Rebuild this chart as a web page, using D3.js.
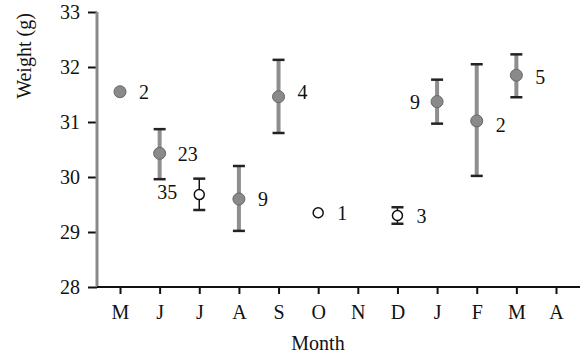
<!DOCTYPE html>
<html><head><meta charset="utf-8">
<script src="https://cdn.jsdelivr.net/npm/d3@7"></script>
<style>body{margin:0;background:#fff}svg{display:block}text{font-family:"Liberation Serif","Times New Roman",serif;fill:#111}</style>
</head><body><svg id="c" width="586" height="357"></svg>
<script>
const months = ["M","J","J","A","S","O","N","D","J","F","M","A"];
const means  = [31.55,30.43,29.68,29.6,31.46,29.35,null,29.3,31.37,31.02,31.85,null];
const lows   = [null,29.96,29.4,29.02,30.8,null,null,29.15,30.97,30.02,31.45,null];
const highs  = [null,30.87,29.97,30.2,32.13,null,null,29.45,31.77,32.05,32.23,null];
const filled = [true,true,false,true,true,false,null,false,true,true,true,null];
const nLabels = ["2","23","35","9","4","1",null,"3","9","2","5",null];
const yTicks = [28,29,30,31,32,33];

// label placement (layout only): [anchor side, dx, dy]
const labelLayout = [["start",19,0],["start",18,1],["end",-22,-3],["start",19,0],["start",19,-5],
  ["start",19,0],null,["start",19,0],["end",-17,0],["start",19,4],["start",19,2],null];

const svg = d3.select("#c");
const FONT = '"Liberation Serif","Times New Roman",serif';
const x0 = 97, x1 = 580, yTop = 12, yBot = 287;
const x = d3.scalePoint().domain(d3.range(months.length)).range([120, 556]);
const y = d3.scaleLinear().domain([28,33]).range([yBot, yTop]);

// y axis
const yAxis = d3.axisLeft(y).tickValues(yTicks).tickSize(9).tickPadding(8).tickFormat(d3.format("d"));
const gy = svg.append("g").attr("transform",`translate(${x0},0)`).call(yAxis)
  .attr("font-family",FONT).attr("font-size",20);
gy.select(".domain").remove();
gy.selectAll(".tick line").attr("stroke","#111").attr("stroke-width",2);
gy.selectAll(".tick text").attr("fill","#111").attr("dy","0.32em");
svg.append("line").attr("x1",x0).attr("x2",x0).attr("y1",yTop).attr("y2",yBot)
  .attr("stroke","#8a8a8a").attr("stroke-width",3);

// x axis
const xAxis = d3.axisBottom(x).tickSize(7).tickPadding(11).tickFormat(i=>months[i]);
const gx = svg.append("g").attr("transform",`translate(0,${yBot})`).call(xAxis)
  .attr("font-family",FONT).attr("font-size",20);
gx.select(".domain").remove();
gx.selectAll(".tick line").attr("stroke","#111").attr("stroke-width",2);
gx.selectAll(".tick text").attr("fill","#111");
svg.append("line").attr("x1",x0).attr("x2",x1).attr("y1",yBot).attr("y2",yBot)
  .attr("stroke","#111").attr("stroke-width",2);

// axis titles
svg.append("text").attr("x",318).attr("y",350).attr("text-anchor","middle").style("font-size","20px").text("Month");
svg.append("text").attr("transform","translate(31,56) rotate(-90)").attr("text-anchor","middle").style("font-size","20px").text("Weight (g)");

const idx = d3.range(months.length).filter(i=>means[i]!==null);

// error bars
idx.filter(i=>lows[i]!==null).forEach(i=>{
  const cx = x(i);
  const g = svg.append("g");
  g.append("line").attr("x1",cx).attr("x2",cx).attr("y1",y(highs[i])).attr("y2",y(lows[i]))
    .attr("stroke", filled[i] ? "#8e8e8e" : "#111").attr("stroke-width", filled[i] ? 4 : 1.5);
  [highs[i],lows[i]].forEach(v=>{
    g.append("line").attr("x1",cx-6).attr("x2",cx+6).attr("y1",y(v)).attr("y2",y(v))
      .attr("stroke","#222").attr("stroke-width",2.5);
  });
});

// points
svg.selectAll("circle.pt").data(idx).join("circle").attr("class","pt")
  .attr("cx",i=>x(i)).attr("cy",i=>y(means[i]))
  .attr("r",i=>filled[i]?6:5)
  .attr("fill",i=>filled[i]?"#8a8a8a":"#fff")
  .attr("stroke",i=>filled[i]?"#666":"#111")
  .attr("stroke-width",i=>filled[i]?1:1.5);

// n labels
svg.selectAll("text.n").data(idx).join("text").attr("class","n")
  .attr("x",i=>x(i)+labelLayout[i][1])
  .attr("y",i=>y(means[i])+labelLayout[i][2])
  .attr("dy","0.35em")
  .attr("text-anchor",i=>labelLayout[i][0])
  .style("font-size","20px")
  .text(i=>nLabels[i]);
</script></body></html>
